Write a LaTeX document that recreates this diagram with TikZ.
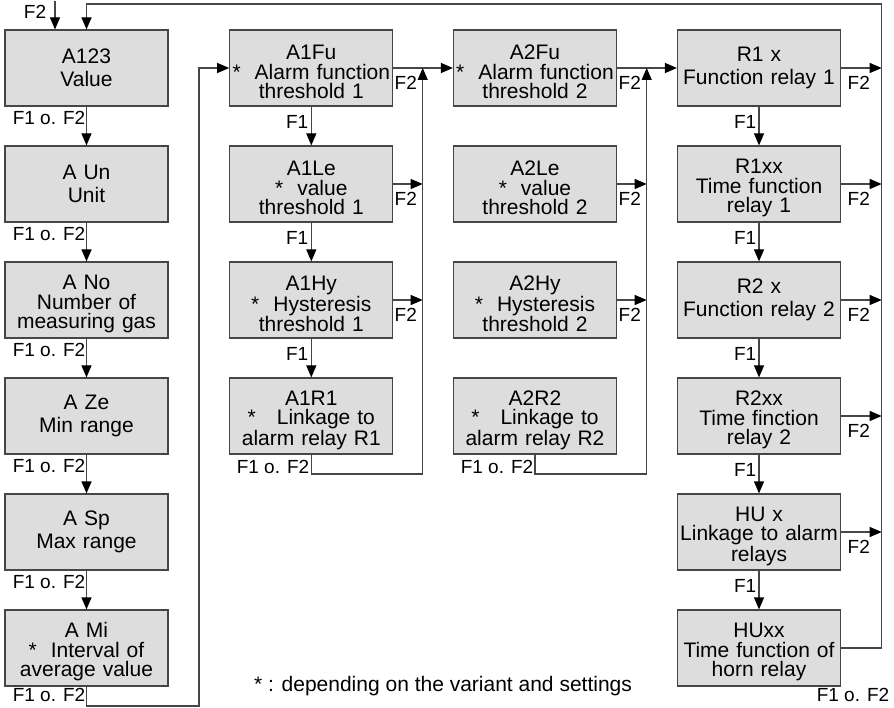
\documentclass[tikz,border=0pt]{standalone}
\usepackage{fontspec}
\setmainfont{Liberation Sans}
\usetikzlibrary{arrows.meta}
\definecolor{boxfill}{RGB}{221,221,221}
\definecolor{linec}{RGB}{70,70,70}
\newcommand\toppad{\rule{0pt}{23pt}}
\begin{document}
\begin{tikzpicture}[x=1pt,y=-1pt,
  box/.style={draw=linec, line width=1.2pt, fill=boxfill, minimum width=163pt, minimum height=76pt,
    text width=161pt, inner sep=0pt, align=center, font=\fontsize{21}{19.5}\selectfont},
  boxtwo/.style={box, font=\fontsize{21}{23}\selectfont},
  conn/.style={draw=linec, line width=1.2pt},
  arr/.style={conn, -{Triangle[length=12pt,width=10pt,color=black]}},
  lab/.style={font=\fontsize{19}{19}\selectfont, inner sep=1.5pt},
  note/.style={font=\fontsize{21}{21}\selectfont, inner sep=0pt}
]
\useasboundingbox (0,0) rectangle (894,708);

% column 1
\node[boxtwo] (A123) at (86.5,68) {A123\\Value};
\node[boxtwo] (AUn) at (86.5,184) {A Un\\Unit};
\node[box] (ANo) at (86.5,300) {\toppad A No\\Number of\\measuring gas};
\node[boxtwo] (AZe) at (86.5,416) {A Ze\\Min range};
\node[boxtwo] (ASp) at (86.5,532) {A Sp\\Max range};
\node[box] (AMi) at (86.5,648) {\toppad A Mi\\{*}\ \ Interval of\\average value};

% column 2
\node[box] (A1Fu) at (311.3,68) {\toppad A1Fu\\{*}\ \ Alarm function\\threshold 1};
\node[box] (A1Le) at (311.3,184) {\toppad A1Le\\{*}\ \ value\\threshold 1};
\node[box] (A1Hy) at (311.3,300) {\toppad A1Hy\\{*}\ \ Hysteresis\\threshold 1};
\node[box] (A1R1) at (311.3,416) {\toppad A1R1\\{*}\ \ \ Linkage to\\alarm relay R1};

% column 3
\node[box] (A2Fu) at (535,68) {\toppad A2Fu\\{*}\ \ Alarm function\\threshold 2};
\node[box] (A2Le) at (535,184) {\toppad A2Le\\{*}\ \ value\\threshold 2};
\node[box] (A2Hy) at (535,300) {\toppad A2Hy\\{*}\ \ Hysteresis\\threshold 2};
\node[box] (A2R2) at (535,416) {\toppad A2R2\\{*}\ \ \ Linkage to\\alarm relay R2};

% column 4
\node[boxtwo] (R1x) at (759,68) {R1 x\\Function relay 1};
\node[box] (R1xx) at (759,184) {\toppad R1xx\\Time function\\relay 1};
\node[boxtwo] (R2x) at (759,300) {R2 x\\Function relay 2};
\node[box] (R2xx) at (759,416) {\toppad R2xx\\Time finction\\relay 2};
\node[box] (HUx) at (759,532) {\toppad HU x\\Linkage to alarm\\relays};
\node[box] (HUxx) at (759,648) {\toppad HUxx\\Time function of\\horn relay};

% junction coordinates
\coordinate (topF) at (55,1);
\coordinate (j2) at (422.7,68);
\coordinate (j3) at (646.7,68);
\coordinate (j4) at (881.7,4);
\coordinate (b2) at (422.7,474);
\coordinate (b3) at (646.7,474);
\coordinate (loopL) at (199,706);

% top entry
\draw[arr] (topF) -- (A123.north -| topF);
\node[lab] (lF2top) at (35,12) {F2};

% column 1 chain
\draw[arr] (A123) -- (AUn);
\draw[arr] (AUn) -- (ANo);
\draw[arr] (ANo) -- (AZe);
\draw[arr] (AZe) -- (ASp);
\draw[arr] (ASp) -- (AMi);
\node[lab, anchor=east] (l11) at (87,118) {F1 o. F2};
\node[lab, anchor=east] (l12) at (87,234) {F1 o. F2};
\node[lab, anchor=east] (l13) at (87,350) {F1 o. F2};
\node[lab, anchor=east] (l14) at (87,466) {F1 o. F2};
\node[lab, anchor=east] (l15) at (87,582) {F1 o. F2};
\node[lab, anchor=east] (l16) at (87,695) {F1 o. F2};
\draw[arr] (AMi.south) -- (AMi.south |- loopL) -- (loopL) |- (A1Fu.west);

% column 2
\draw[arr] (A1Fu) -- (A2Fu);
\draw[arr] (A1Fu) -- (A1Le);
\draw[arr] (A1Le) -- (A1Hy);
\draw[arr] (A1Hy) -- (A1R1);
\node[lab, anchor=east] (l21) at (310,122) {F1};
\node[lab, anchor=east] (l22) at (310,238) {F1};
\node[lab, anchor=east] (l23) at (310,354) {F1};
\draw[arr] (A1Le.east) -- (A1Le.east -| j2);
\draw[arr] (A1Hy.east) -- (A1Hy.east -| j2);
\draw[arr] (A1R1.south) -- (A1R1.south |- b2) -| (j2);
\node[lab, anchor=east] (l24) at (311,467) {F1 o. F2};
\node[lab, anchor=west] (f21) at (393,83) {F2};
\node[lab, anchor=west] (f22) at (393,199) {F2};
\node[lab, anchor=west] (f23) at (393,315) {F2};

% column 3
\draw[arr] (A2Fu) -- (R1x);
\draw[arr] (A2Le.east) -- (A2Le.east -| j3);
\draw[arr] (A2Hy.east) -- (A2Hy.east -| j3);
\draw[arr] (A2R2.south) -- (A2R2.south |- b3) -| (j3);
\node[lab, anchor=east] (l34) at (535,467) {F1 o. F2};
\node[lab, anchor=west] (f31) at (617,83) {F2};
\node[lab, anchor=west] (f32) at (617,199) {F2};
\node[lab, anchor=west] (f33) at (617,315) {F2};

% column 4
\draw[arr] (R1x) -- (R1xx);
\draw[arr] (R1xx) -- (R2x);
\draw[arr] (R2x) -- (R2xx);
\draw[arr] (R2xx) -- (HUx);
\draw[arr] (HUx) -- (HUxx);
\node[lab, anchor=east] (l41) at (758,122) {F1};
\node[lab, anchor=east] (l42) at (758,238) {F1};
\node[lab, anchor=east] (l43) at (758,354) {F1};
\node[lab, anchor=east] (l44) at (758,470) {F1};
\node[lab, anchor=east] (l45) at (758,586) {F1};
\draw[arr] (R1x.east) -- (R1x.east -| j4);
\draw[arr] (R1xx.east) -- (R1xx.east -| j4);
\draw[arr] (R2x.east) -- (R2x.east -| j4);
\draw[arr] (R2xx.east) -- (R2xx.east -| j4);
\draw[arr] (HUx.east) -- (HUx.east -| j4);
\node[lab, anchor=west] (f41) at (846,83) {F2};
\node[lab, anchor=west] (f42) at (846,199) {F2};
\node[lab, anchor=west] (f43) at (846,315) {F2};
\node[lab, anchor=west] (f44) at (846,431) {F2};
\node[lab, anchor=west] (f45) at (846,547) {F2};
\draw[arr] (HUxx.east) -| (j4) -| (A123.north);
\node[lab] (l46) at (853,695) {F1 o. F2};

% footnote
\node[note] (fn) at (443,686) {* : depending on the variant and settings};
\end{tikzpicture}
\end{document}
